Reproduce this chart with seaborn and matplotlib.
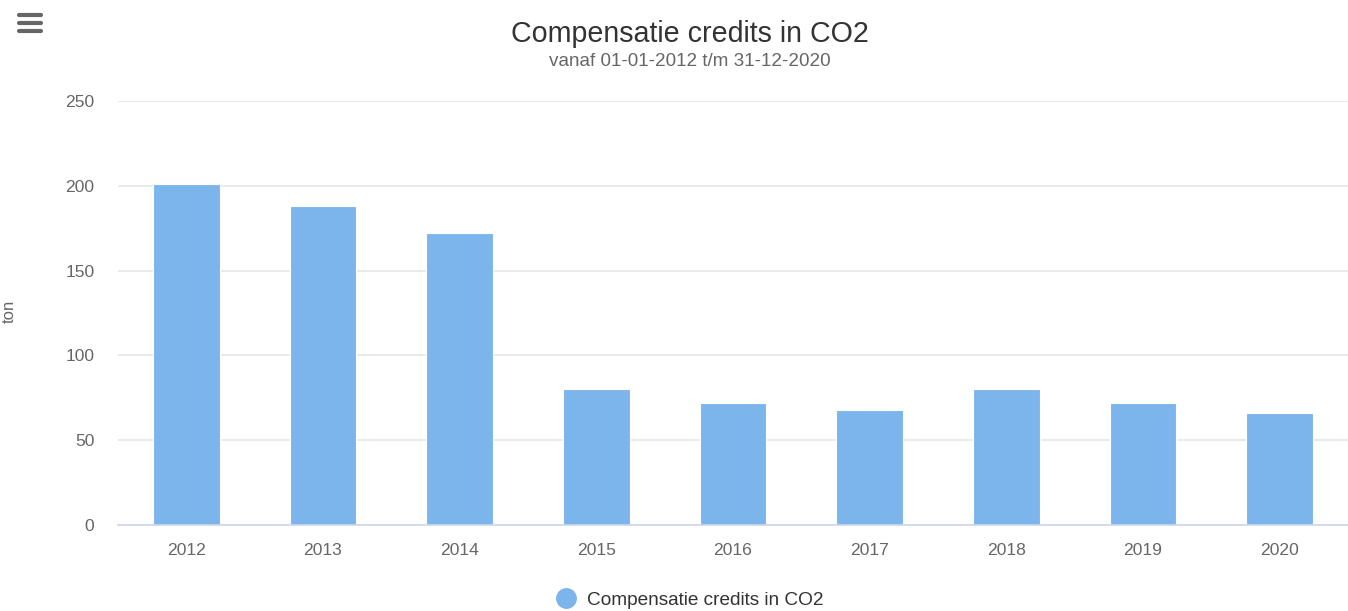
import numpy as np
import pandas as pd
import seaborn as sns
import matplotlib.pyplot as plt
from matplotlib.lines import Line2D

years = ["2012", "2013", "2014", "2015", "2016", "2017", "2018", "2019", "2020"]
credits = [201, 188, 172, 80, 72, 68, 80, 72, 66]
series_name = "Compensatie credits in CO2"

sns.set_style("white")
plt.rcParams['font.family'] = ['Liberation Sans', 'DejaVu Sans']

df = pd.DataFrame({"jaar": years, "ton": credits})

fig = plt.figure(figsize=(13.48, 6.11), dpi=100)
ax = fig.add_axes([118 / 1348, 86 / 611, 1230 / 1348, 424 / 611])

sns.barplot(data=df, x="jaar", y="ton", color="#7cb5ec", saturation=1,
            width=0.49, edgecolor="white", linewidth=0.8, ax=ax, zorder=3)

ax.set_ylim(0, 250)
ax.set_yticks([0, 50, 100, 150, 200, 250])
ax.set_xlim(-0.5, len(years) - 0.5)
ax.yaxis.grid(True, color="#e6e6e6", linewidth=1.2, zorder=0)
ax.set_axisbelow(True)
for s in ["top", "right", "left"]:
    ax.spines[s].set_visible(False)
ax.spines["bottom"].set_color("#ccd6eb")
ax.spines["bottom"].set_linewidth(1.2)
ax.spines["bottom"].set_zorder(4)
ax.tick_params(axis="y", length=0, pad=17, labelsize=12.6, labelcolor="#666666")
ax.tick_params(axis="x", length=0, pad=13, labelsize=12.6, labelcolor="#666666")
ax.set_xlabel("")
ax.set_ylabel("")

# y axis title at the far left edge
fig.text(9 / 1348, 1 - 311 / 611, "ton", rotation=90, ha="center", va="center",
         fontsize=12, color="#666666")

fig.text(689.5 / 1348, 1 - 34 / 611, series_name, ha="center", va="center",
         fontsize=20.6, color="#333333")
fig.text(689.5 / 1348, 1 - 61 / 611, "vanaf 01-01-2012 t/m 31-12-2020",
         ha="center", va="center", fontsize=13.6, color="#666666")

# menu icon
for yy in [15, 23, 31]:
    fig.add_artist(Line2D([19 / 1348, 41 / 1348], [1 - yy / 611, 1 - yy / 611],
                          color="#666666", linewidth=3, solid_capstyle="round"))

handle = Line2D([], [], marker="o", linestyle="", color="#7cb5ec", markersize=14)
fig.legend(handles=[handle], labels=[series_name], loc="center",
           bbox_to_anchor=(690 / 1348, 1 - 600 / 611), frameon=False,
           fontsize=13.7, labelcolor="#333333", handletextpad=0.6,
           handlelength=1.0)

fig.savefig("out.png", dpi=100)
